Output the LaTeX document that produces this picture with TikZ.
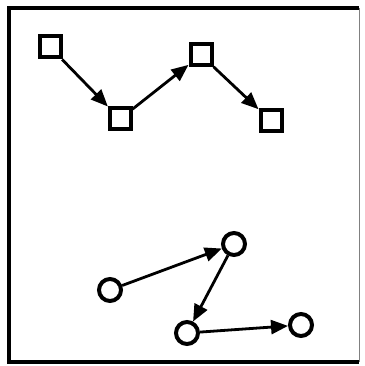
\documentclass[tikz,border=0pt]{standalone}
\usetikzlibrary{arrows.meta}
\begin{document}
\begin{tikzpicture}[x=1pt,y=-1pt,
  sq/.style={draw,line width=4pt,minimum size=21pt,inner sep=0pt,outer sep=2pt},
  ci/.style={draw,circle,line width=4pt,minimum size=22pt,inner sep=0pt,outer sep=2pt},
  conn/.style={line width=2.8pt,-{Triangle[length=17pt,width=14pt]}}]
\useasboundingbox (0,0) rectangle (364,366);
\fill[white] (0,0) rectangle (364,366);
\draw[line width=4pt] (359,8) -- (8.5,8) -- (8.5,362) -- (359,362);
\draw[line width=1pt,gray] (359,8) -- (359,362);
\node[sq] (s1) at (50,47) {};
\node[sq] (s2) at (120,119) {};
\node[sq] (s3) at (201,55) {};
\node[sq] (s4) at (271,121) {};
\node[ci] (c1) at (110,290) {};
\node[ci] (c2) at (234,244) {};
\node[ci] (c3) at (187,333) {};
\node[ci] (c4) at (301,325) {};
\draw[conn] (s1) -- (s2);
\draw[conn] (s2) -- (s3);
\draw[conn] (s3) -- (s4);
\draw[conn] (c1) -- (c2);
\draw[conn] (c2) -- (c3);
\draw[conn] (c3) -- (c4);
\end{tikzpicture}
\end{document}
